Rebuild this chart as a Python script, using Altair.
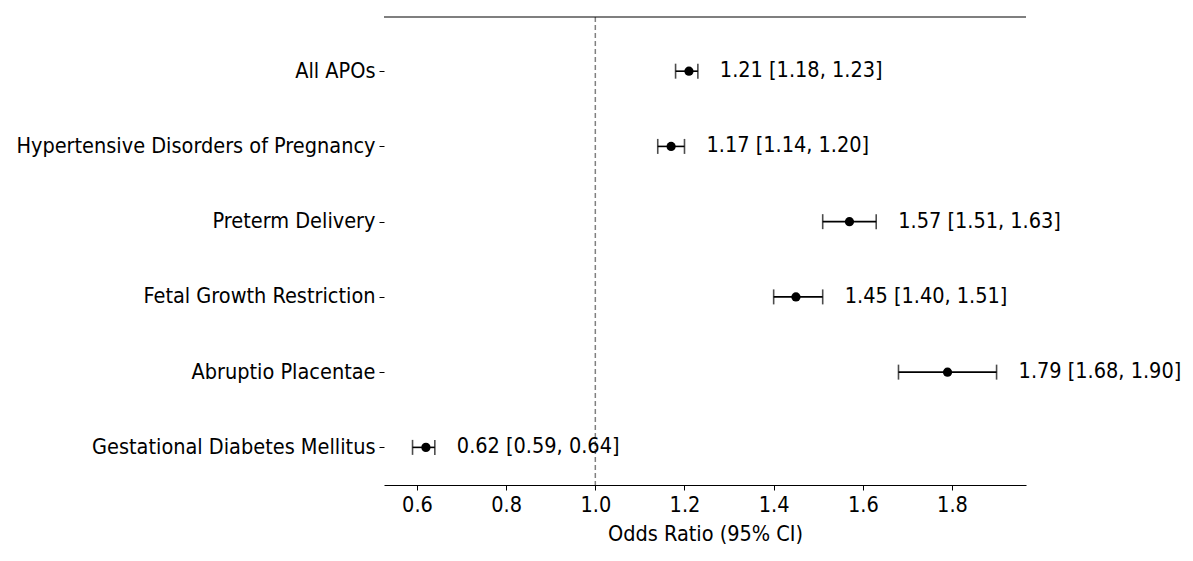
import altair as alt
import pandas as pd

outcomes = ["All APOs", "Hypertensive Disorders of Pregnancy", "Preterm Delivery",
            "Fetal Growth Restriction", "Abruptio Placentae", "Gestational Diabetes Mellitus"]
odds = [1.21, 1.17, 1.57, 1.45, 1.79, 0.62]
lower = [1.18, 1.14, 1.51, 1.40, 1.68, 0.59]
upper = [1.23, 1.20, 1.63, 1.51, 1.90, 0.64]
x_ticks = [0.6, 0.8, 1.0, 1.2, 1.4, 1.6, 1.8]

df = pd.DataFrame({
    "outcome": outcomes,
    "idx": list(range(len(outcomes))),
    "or": odds,
    "lo": lower,
    "hi": upper,
})
df["label"] = [f"{o:.2f} [{l:.2f}, {h:.2f}]" for o, l, h in zip(odds, lower, upper)]

FONT = "DejaVu Sans Condensed"
FS = 21.5
W, H = 642, 468

label_expr = "[" + ",".join("'" + o + "'" for o in outcomes) + "][datum.value]"

xs = alt.Scale(domain=[0.526, 1.966], nice=False, zero=False)
ys = alt.Scale(domain=[-0.72, 5.5], reverse=True, nice=False, zero=False)

x_axis = alt.Axis(
    values=x_ticks, format=".1f", title="Odds Ratio (95% CI)", grid=False,
    domainColor="black", tickColor="black", labelColor="black", titleColor="black",
    labelFont=FONT, titleFont=FONT, labelFontSize=FS, titleFontSize=FS, titleFontWeight="normal",
    tickSize=5, labelPadding=4, titlePadding=8, domainWidth=1.2)
y_axis = alt.Axis(
    values=list(range(len(outcomes))), labelExpr=label_expr, title=None, grid=False,
    domain=False, tickColor="black", labelColor="black", labelFont=FONT, labelFontSize=FS,
    tickSize=5, labelPadding=4, labelLimit=500)

def X(field):
    return alt.X(field, scale=xs, axis=x_axis, title="Odds Ratio (95% CI)")

def Y():
    return alt.Y("idx:Q", scale=ys, axis=y_axis, title=None)

base = alt.Chart(df)

bars = base.mark_rule(color="black", strokeWidth=1.6).encode(x=X("lo:Q"), x2="hi:Q", y=Y())
cap_lo = base.mark_tick(color="black", orient="vertical", size=15, thickness=1.6).encode(
    x=X("lo:Q"), y=Y())
cap_hi = base.mark_tick(color="black", orient="vertical", size=15, thickness=1.6).encode(
    x=X("hi:Q"), y=Y())
pts = base.mark_circle(color="black", size=85, opacity=1).encode(x=X("or:Q"), y=Y())
txt = base.mark_text(align="left", baseline="middle", dx=22, font=FONT, fontSize=FS, color="black").encode(
    x=X("hi:Q"), y=Y(), text="label:N")

ref = alt.Chart(pd.DataFrame({"v": [1.0]})).mark_rule(
    color="#808080", strokeDash=[5, 3], strokeWidth=1.5).encode(x=X("v:Q"))
top = alt.Chart(pd.DataFrame({"v": [0]})).mark_rule(color="black", strokeWidth=1.2).encode(
    x=alt.value(0), x2=alt.value(W), y=alt.value(0))

chart = alt.layer(ref, bars, cap_lo, cap_hi, pts, txt, top).properties(
    width=W, height=H,
    background="white",
    autosize=alt.AutoSizeParams(type="none"),
    padding={"left": 376, "top": 9, "right": 159, "bottom": 68},
).configure_view(stroke="transparent", strokeWidth=0)

chart.save("out.html", embed_options={"renderer": "svg", "actions": False})
